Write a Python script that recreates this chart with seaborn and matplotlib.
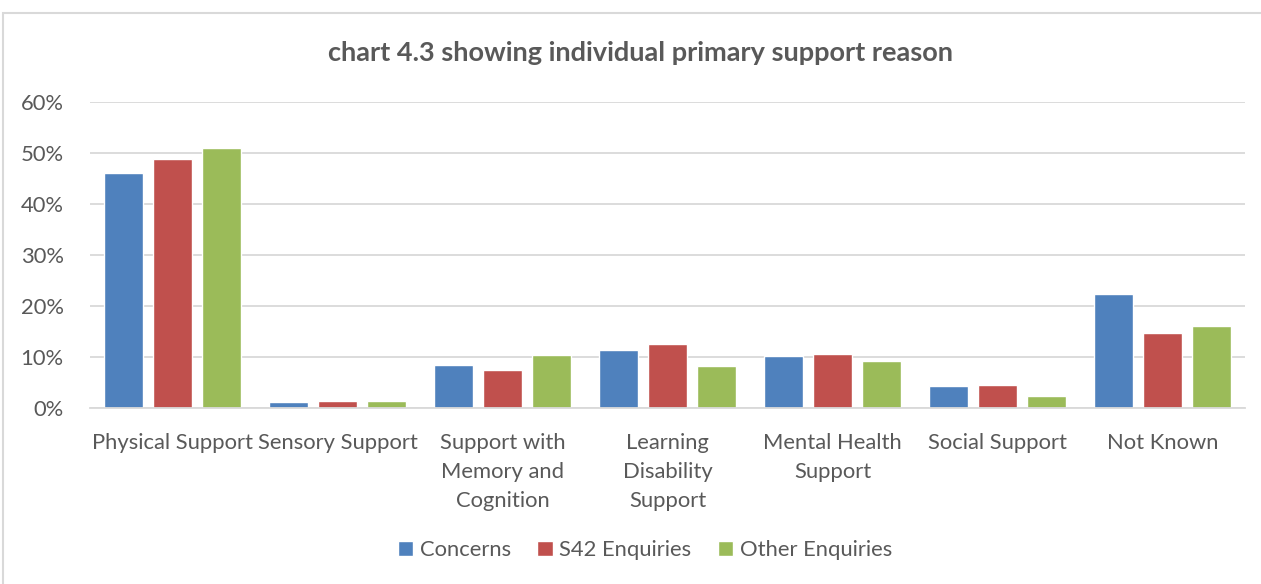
import matplotlib
matplotlib.use("Agg")
import matplotlib.pyplot as plt
from matplotlib.patches import Rectangle
from matplotlib.ticker import PercentFormatter
import seaborn as sns
import pandas as pd

# Share of individuals by primary support reason
categories = [
    "Physical Support",
    "Sensory Support",
    "Support with\nMemory and\nCognition",
    "Learning\nDisability\nSupport",
    "Mental Health\nSupport",
    "Social Support",
    "Not Known",
]
series = ["Concerns", "S42 Enquiries", "Other Enquiries"]
concerns = [0.461, 0.011, 0.085, 0.113, 0.101, 0.044, 0.224]
s42_enquiries = [0.488, 0.014, 0.075, 0.125, 0.106, 0.045, 0.148]
other_enquiries = [0.510, 0.014, 0.104, 0.083, 0.093, 0.024, 0.161]
colors = ["#4F81BD", "#C0504D", "#9BBB59"]

df = pd.DataFrame({
    "category": categories * 3,
    "series": [s for s in series for _ in categories],
    "value": concerns + s42_enquiries + other_enquiries,
})

sns.set_theme(style="white")
plt.rcParams["font.family"] = ["Lato", "DejaVu Sans"]
text_color = "#595959"
grid_color = "#D9D9D9"

fig = plt.figure(figsize=(12.61, 5.84), dpi=100)
ax = fig.add_axes([90 / 1261, 176 / 584, 1155 / 1261, 306 / 584])

sns.barplot(
    data=df, x="category", y="value", hue="series",
    order=categories, hue_order=series, palette=colors,
    width=0.89, gap=0.21, saturation=1, errorbar=None, ax=ax,
    legend=True,
)

ax.set_ylim(0, 0.6)
ax.set_yticks([0, 0.1, 0.2, 0.3, 0.4, 0.5, 0.6])
ax.yaxis.set_major_formatter(PercentFormatter(1.0, decimals=0))
ax.set_xlim(-0.5, len(categories) - 0.5)
ax.grid(axis="y", color=grid_color, linewidth=1.3)
ax.set_axisbelow(True)
for side in ["top", "right", "left"]:
    ax.spines[side].set_visible(False)
ax.spines["bottom"].set_color(grid_color)
ax.spines["bottom"].set_linewidth(1.3)
ax.set_xlabel("")
ax.set_ylabel("")
ax.tick_params(axis="both", length=0, colors=text_color, labelsize=15.8)
ax.tick_params(axis="x", pad=18)
ax.tick_params(axis="y", pad=19)
for lbl in ax.get_xticklabels():
    lbl.set_linespacing(1.55)

handles, labels = ax.get_legend_handles_labels()
ax.legend_.remove()
fig.legend(
    handles, labels, loc="center", bbox_to_anchor=(645 / 1261, 34 / 584),
    ncol=3, frameon=False, fontsize=15.8, labelcolor=text_color,
    handlelength=0.7, handleheight=0.7, handletextpad=0.3, columnspacing=1.2,
)

fig.text(641 / 1261, 531 / 584, "chart 4.3 showing individual primary support reason",
         ha="center", va="center", fontsize=19.5, fontweight="bold", color=text_color)

# Outer chart frame
fig.patches.append(Rectangle((3 / 1261, -0.05), 1.1, (571 / 584) + 0.05,
                             transform=fig.transFigure, fill=False,
                             edgecolor=grid_color, linewidth=1.5))

fig.savefig("out.png", dpi=100, facecolor="white")
